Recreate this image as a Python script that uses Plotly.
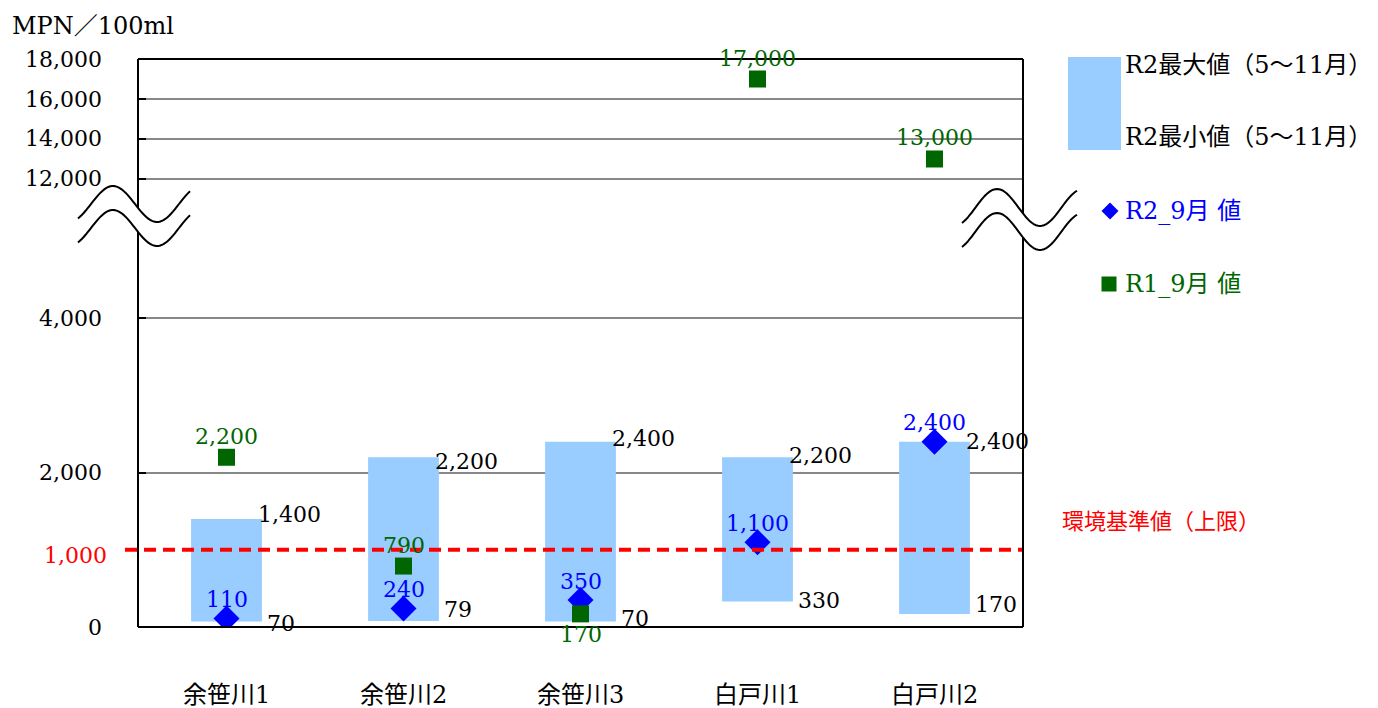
import numpy as np
import plotly.graph_objects as go

# ---------------- data ----------------
categories = ["余笹川1", "余笹川2", "余笹川3", "白戸川1", "白戸川2"]
r2_max = [1400, 2200, 2400, 2200, 2400]      # R2最大値（5～11月）
r2_min = [70, 79, 70, 330, 170]              # R2最小値（5～11月）
r2_sep = [110, 240, 350, 1100, 2400]         # R2_9月 値
r1_sep = [2200, 790, 170, 17000, 13000]      # R1_9月 値
standard_upper = 1000                        # 環境基準値（上限）
ytick_values = [0, 2000, 4000, 12000, 14000, 16000, 18000]
ytick_labels = ["0", "2,000", "4,000", "12,000", "14,000", "16,000", "18,000"]

# ---------------- broken-axis scale ----------------
LOW_TOP, HIGH_BOTTOM, GAP, HIGH_SCALE = 4000, 12000, 1807, 0.2592


def f(v):
    if v <= LOW_TOP:
        return v
    return LOW_TOP + GAP + (v - HIGH_BOTTOM) * HIGH_SCALE


Y_TOP = f(18000)

# page has an 8px body margin -> figure is 8px smaller and offset
PAGE_W, PAGE_H, OFF = 1378, 708, 8
W, H = PAGE_W - OFF, PAGE_H - OFF
L, R, T, B = 138, 1023, 59, 627   # plot area in page pixels


def px(x):
    return (x - L) / (R - L)


def py(y):
    return (B - y) / (B - T)


SERIF = "DejaVu Serif, Noto Sans CJK JP"
NUM_SIZE = 22
BLUE = "#0000FF"
GREEN = "#006600"
BAR = "#99CCFF"

xs = list(range(len(categories)))
BW = 0.4

fig = go.Figure()
fig.add_trace(go.Bar(
    x=xs, y=[f(a) - f(b) for a, b in zip(r2_max, r2_min)], base=[f(b) for b in r2_min],
    width=BW, marker=dict(color=BAR, line=dict(width=0)), showlegend=False))
fig.add_trace(go.Scatter(
    x=xs, y=[f(v) for v in r2_sep], mode="markers",
    marker=dict(symbol="diamond", size=20, color=BLUE), showlegend=False))
fig.add_trace(go.Scatter(
    x=xs, y=[f(v) for v in r1_sep], mode="markers",
    marker=dict(symbol="square", size=17, color=GREEN), showlegend=False))

ann = []
shapes = []


def fmt(v):
    return f"{v:,}"


# value labels
min_yshift = [-2, 11, 3, 1, 9]
max_yshift = [4, -4, 3, 2, 0]
r1_pos = [1, 1, -1, 1, 1]
for i in xs:
    ann.append(dict(x=i + BW / 2, y=f(r2_max[i]), text=fmt(r2_max[i]), xanchor="left", yanchor="middle",
                    xshift=-6, yshift=max_yshift[i], showarrow=False,
                    font=dict(family=SERIF, size=NUM_SIZE, color="black")))
    ann.append(dict(x=i + BW / 2, y=f(r2_min[i]), text=fmt(r2_min[i]), xanchor="left", yanchor="middle",
                    xshift=3, yshift=min_yshift[i], showarrow=False,
                    font=dict(family=SERIF, size=NUM_SIZE, color="black")))
    ann.append(dict(x=i, y=f(r2_sep[i]), text=fmt(r2_sep[i]), xanchor="center", yanchor="middle",
                    yshift=19, showarrow=False,
                    font=dict(family=SERIF, size=NUM_SIZE, color=BLUE)))
    ann.append(dict(x=i, y=f(r1_sep[i]), text=fmt(r1_sep[i]), xanchor="center", yanchor="middle",
                    yshift=21 * r1_pos[i], showarrow=False,
                    font=dict(family=SERIF, size=NUM_SIZE, color=GREEN)))
    ann.append(dict(x=i, y=py(695), yref="paper", text=categories[i], xanchor="center", yanchor="middle",
                    showarrow=False, font=dict(family=SERIF, size=24, color="black")))

# y tick labels
for v, t in zip(ytick_values, ytick_labels):
    ann.append(dict(x=px(104), xref="paper", y=f(v), text=t, xanchor="right", yanchor="middle",
                    showarrow=False, font=dict(family=SERIF, size=NUM_SIZE, color="black")))
ann.append(dict(x=px(109), xref="paper", y=f(standard_upper), yshift=-6, text=fmt(standard_upper),
                xanchor="right", yanchor="middle", showarrow=False,
                font=dict(family=SERIF, size=NUM_SIZE, color="red")))
ann.append(dict(x=px(10), xref="paper", y=py(26), yref="paper", text="MPN／100ml", xanchor="left",
                yanchor="middle", showarrow=False, font=dict(family=SERIF, size=24, color="black")))

# standard line
shapes.append(dict(type="line", xref="paper", yref="y", x0=px(125), x1=1, y0=f(standard_upper),
                   y1=f(standard_upper), line=dict(color="red", width=4, dash="12px,7px"), layer="above"))

# frame
for (x0, y0, x1, y1) in [(0, 0, 1, 0), (0, 1, 1, 1), (0, 0, 0, 1), (1, 0, 1, 1)]:
    shapes.append(dict(type="line", xref="paper", yref="paper", x0=x0, y0=y0, x1=x1, y1=y1,
                       line=dict(color="black", width=2), layer="above"))


# axis-break marks
def wave(xa, xb, xpk, half, amp, cy):
    xx = np.linspace(xa, xb, 60)
    yy = cy - amp * np.cos(np.pi * (xx - xpk) / half)
    return xx, yy


def path_from(xx, yy, close_with=None):
    pts = [f"{px(a):.5f},{py(b):.5f}" for a, b in zip(xx, yy)]
    s = "M" + " L".join(pts)
    if close_with is not None:
        xx2, yy2 = close_with
        s += " L" + " L".join(f"{px(a):.5f},{py(b):.5f}" for a, b in zip(xx2[::-1], yy2[::-1])) + " Z"
    return s


for (xa, xb, xpk, half, amp, cy_u, cy_l) in [(78, 190, 113, 44, 18, 204, 228),
                                              (962, 1077, 997, 43, 18.5, 207.5, 231.5)]:
    up = wave(xa, xb, xpk, half, amp, cy_u)
    lo = wave(xa, xb, xpk, half, amp, cy_l)
    shapes.append(dict(type="path", xref="paper", yref="paper", path=path_from(*up, close_with=lo),
                       fillcolor="white", line=dict(width=0), layer="above"))
    shapes.append(dict(type="path", xref="paper", yref="paper", path=path_from(*up),
                       line=dict(color="black", width=2), layer="above"))
    shapes.append(dict(type="path", xref="paper", yref="paper", path=path_from(*lo),
                       line=dict(color="black", width=2), layer="above"))

# custom legend
shapes.append(dict(type="rect", xref="paper", yref="paper", x0=px(1068), x1=px(1121), y0=py(150), y1=py(57),
                   fillcolor=BAR, line=dict(width=0)))
LEG = dict(family=SERIF, size=24)
ann.append(dict(x=px(1123), xref="paper", y=py(65), yref="paper", text="R2最大値（5～11月）", xanchor="left",
                yanchor="middle", showarrow=False, font=dict(LEG, color="black")))
ann.append(dict(x=px(1123), xref="paper", y=py(137), yref="paper", text="R2最小値（5～11月）", xanchor="left",
                yanchor="middle", showarrow=False, font=dict(LEG, color="black")))
cx, cy, r = 1110, 211, 8.5
shapes.append(dict(type="path", xref="paper", yref="paper",
                   path=f"M{px(cx - r)},{py(cy)} L{px(cx)},{py(cy - r)} L{px(cx + r)},{py(cy)} L{px(cx)},{py(cy + r)} Z",
                   fillcolor=BLUE, line=dict(width=0)))
cx, cy, r = 1109, 284, 7.5
shapes.append(dict(type="rect", xref="paper", yref="paper", x0=px(cx - r), x1=px(cx + r), y0=py(cy + r),
                   y1=py(cy - r), fillcolor=GREEN, line=dict(width=0)))
ann.append(dict(x=px(1123), xref="paper", y=py(211), yref="paper", text="R2_9月 値", xanchor="left",
                yanchor="middle", showarrow=False, font=dict(LEG, color=BLUE)))
ann.append(dict(x=px(1123), xref="paper", y=py(284), yref="paper", text="R1_9月 値", xanchor="left",
                yanchor="middle", showarrow=False, font=dict(LEG, color=GREEN)))
ann.append(dict(x=px(1161), xref="paper", y=py(519), yref="paper", text="環境基準値（上限）", xanchor="center",
                yanchor="middle", showarrow=False,
                font=dict(family="Noto Sans CJK JP", size=22, color="red")))

fig.update_layout(
    width=W, height=H, margin=dict(l=L - OFF, r=PAGE_W - R, t=T - OFF, b=PAGE_H - B, pad=0),
    paper_bgcolor="white", plot_bgcolor="white", showlegend=False,
    xaxis=dict(range=[-0.5, 4.5], showticklabels=False, showgrid=False, zeroline=False, showline=False,
               fixedrange=True),
    yaxis=dict(range=[0, Y_TOP], tickvals=[f(v) for v in ytick_values], showticklabels=False,
               ticks="inside", ticklen=8, tickwidth=2, tickcolor="black",
               showgrid=True, gridcolor="#888888", gridwidth=1.5, zeroline=False, showline=False,
               fixedrange=True),
    annotations=ann, shapes=shapes,
)
fig.write_html("out.html")
